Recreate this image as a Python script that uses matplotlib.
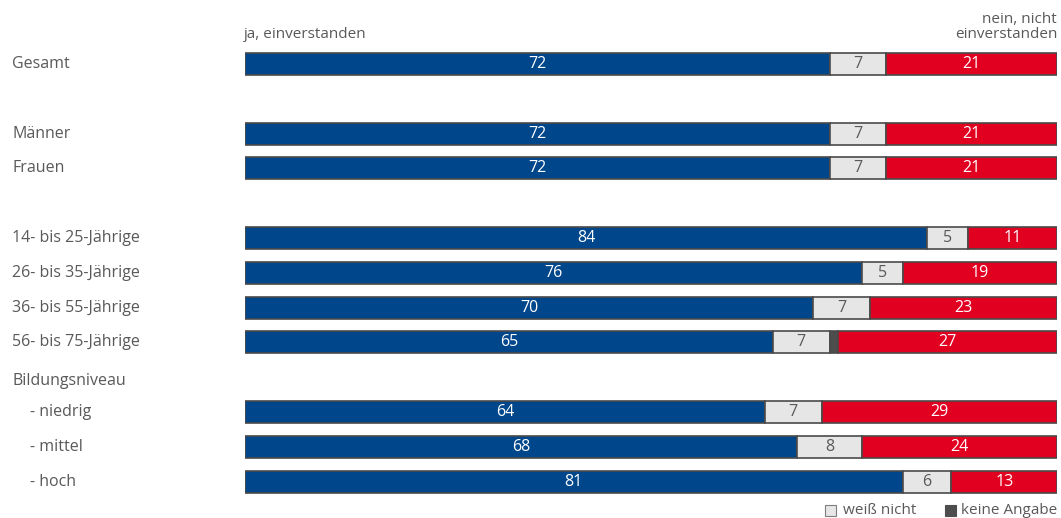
import matplotlib
matplotlib.use("Agg")
import matplotlib.pyplot as plt
from matplotlib.patches import Rectangle

plt.rcParams['font.family'] = ['Open Sans', 'DejaVu Sans']

categories = ["Gesamt", "Männer", "Frauen", "14- bis 25-Jährige", "26- bis 35-Jährige",
              "36- bis 55-Jährige", "56- bis 75-Jährige", "- niedrig", "- mittel", "- hoch"]
indent = [False, False, False, False, False, False, False, True, True, True]
positions = [0, 2, 3, 5, 6, 7, 8, 10, 11, 12]
header = "Bildungsniveau"
header_pos = 9

ja = [72, 72, 72, 84, 76, 70, 65, 64, 68, 81]
weiss_nicht = [7, 7, 7, 5, 5, 7, 7, 7, 8, 6]
keine_angabe = [0, 0, 0, 0, 0, 0, 1, 0, 0, 0]
nein = [21, 21, 21, 11, 19, 23, 27, 29, 24, 13]

c_blue = "#00468B"
c_grey = "#E6E6E6"
c_dark = "#4D4D4D"
c_red = "#E10020"
c_edge = "#4A4A4A"
c_text = "#595959"

W, H = 1061, 518
fig = plt.figure(figsize=(W / 100, H / 100), dpi=100)
ax = fig.add_axes([245 / W, 0, (1057 - 245) / W, 1])
row_h = 34.8
y0 = 64
ax.set_ylim((H - y0) / row_h, -y0 / row_h)
ax.set_xlim(0, 100)
ax.axis("off")

bh = 22 / row_h
fs = 11.5
for i, p in enumerate(positions):
    left = 0
    segs = [(ja[i], c_blue, "white"), (weiss_nicht[i], c_grey, c_text),
            (keine_angabe[i], c_dark, None), (nein[i], c_red, "white")]
    for val, col, tcol in segs:
        if val <= 0:
            continue
        ax.barh(p, val, left=left, height=bh, color=col, edgecolor=c_edge, linewidth=1.2)
        if tcol is not None:
            ax.text(left + val / 2, p, str(val), ha="center", va="center",
                    color=tcol, fontsize=fs)
        left += val
    lx = 30 if indent[i] else 12
    fig.text(lx / W, 1 - (y0 + row_h * p) / H, categories[i], ha="left", va="center",
             color=c_text, fontsize=fs)

fig.text(12 / W, 1 - (y0 + row_h * header_pos + 4) / H, header, ha="left", va="center",
         color=c_text, fontsize=fs)

fig.text(244 / W, 1 - 35 / H, "ja, einverstanden", ha="left", va="center",
         color=c_text, fontsize=11)
fig.text(1057 / W, 1 - 27 / H, "nein, nicht\neinverstanden", ha="right", va="center",
         color=c_text, fontsize=11, linespacing=1.0, multialignment="right")

# legend
ly = 1 - 510 / H
sq = 11
fig.patches.append(Rectangle((825 / W, ly - sq / 2 / H), sq / W, sq / H, transform=fig.transFigure,
                             facecolor=c_grey, edgecolor="#7F7F7F", linewidth=0.8))
fig.text(843 / W, ly, "weiß nicht", ha="left", va="center", color=c_text, fontsize=11)
fig.patches.append(Rectangle((945 / W, ly - sq / 2 / H), sq / W, sq / H, transform=fig.transFigure,
                             facecolor=c_dark, edgecolor=c_dark, linewidth=0.8))
fig.text(1057 / W, ly, "keine Angabe", ha="right", va="center", color=c_text, fontsize=11)

fig.savefig("out.png", dpi=100)
